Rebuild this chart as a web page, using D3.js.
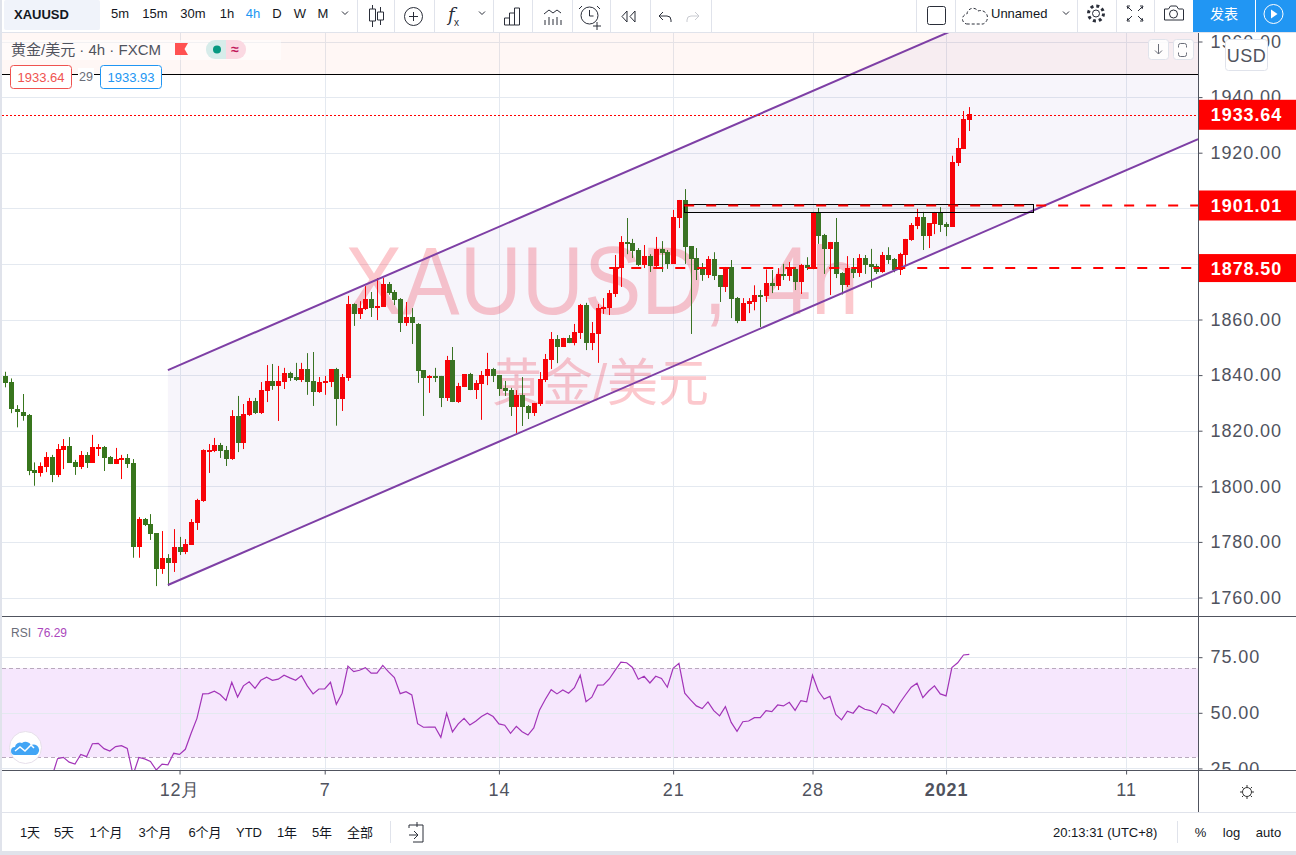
<!DOCTYPE html>
<html>
<head>
<meta charset="utf-8">
<script src="https://cdnjs.cloudflare.com/ajax/libs/d3/7.8.5/d3.min.js"></script>
<style>
	html, body { margin: 0; padding: 0; background: #e0e3eb; overflow: hidden; }
	svg { display: block; font-family: "Liberation Sans", "Noto Sans CJK SC", sans-serif; }
</style>
</head>
<body>
<div id="chart"></div>
<script>
const opens = [
	1839.7,1837.5,1827.7,1826.7,1825.6,1805.9,1804.8,1807,1810.5,1804.1,
	1813,1814.5,1808.7,1807,1811.3,1808.4,1813.7,1814.1,1810.5,1808,
	1809.5,1810.2,1808.4,1778.3,1788.2,1786.4,1783.2,1770.3,1774.2,1772.4,
	1778.2,1776.4,1778.9,1786.8,1794.7,1812.7,1812.7,1814.9,1813.1,1809.8,
	1825.3,1815.6,1825.7,1830.7,1826.4,1834.3,1837.9,1836.1,1837.5,1840.8,
	1839.3,1838.2,1842.2,1837.9,1833.9,1837.2,1837.5,1842.2,1831.4,1839,
	1865.6,1862,1863.7,1867.4,1864.1,1864.5,1872.8,1869.9,1867.4,1858.7,
	1860.9,1858.3,1841.8,1839,1839.7,1839.7,1831.8,1845.4,1830.3,1835.7,
	1840.4,1834.6,1836.8,1839.7,1842.2,1840,1835.4,1834.6,1828.5,1832.8,
	1828.9,1826.4,1829.6,1838.2,1845.4,1853,1850.1,1853.3,1851.5,1855.1,
	1865.2,1851.5,1854.8,1863.8,1864.1,1869.2,1878.5,1887.9,1887.5,1885,
	1879.6,1882.8,1879.2,1885.4,1884.3,1880,1896.5,1903,1886.4,1882.1,
	1878.5,1876,1881.7,1876,1871.7,1878.9,1867.7,1859.5,1865.5,1866.3,
	1868.8,1868.4,1873.1,1872,1876.4,1875.6,1878.2,1873.5,1879.6,1878.5,
	1898.7,1890.4,1885.4,1887.9,1876.7,1872.4,1878.1,1876.7,1882.1,1880,
	1879.2,1877,1883.2,1881.7,1877.8,1883.2,1888.6,1893.6,1896.9,1890,
	1894.4,1898.3,1894.3,1893.3,1916.3,1921.3,1931.8
];
const closes = [
	1837.3,1827.7,1826.5,1825.4,1805.5,1804.8,1807.3,1810.5,1804.1,1813.4,
	1814.5,1808.4,1807,1811.3,1808.4,1814.1,1814.1,1810.2,1808,1809.8,
	1810.2,1808,1778.3,1788.2,1786.1,1782.8,1770.3,1774.2,1772.4,1778.2,
	1776.4,1779.2,1787.2,1795.1,1813.1,1813.1,1814.9,1812.7,1809.8,1825.3,
	1815.6,1826,1830.7,1826.4,1834.6,1837.9,1836.1,1837.9,1840.8,1839,
	1838.2,1842.2,1837.5,1833.9,1837.5,1837.9,1842.2,1831.4,1839.3,1865.6,
	1862,1864.1,1867.4,1864.1,1864.9,1872.8,1869.5,1867,1858.7,1860.9,
	1858.7,1841.5,1839,1839.7,1839.3,1831.8,1845.4,1830.3,1836.1,1840.4,
	1834.6,1837.2,1840,1842.2,1839.7,1835,1834.3,1828.5,1832.8,1828.5,
	1826.4,1830,1838.6,1845.8,1853,1850.1,1853.3,1851.5,1855.5,1865.2,
	1851.5,1855.1,1864.1,1864.5,1869.5,1878.5,1887.9,1887.2,1884.6,1879.6,
	1882.8,1879.2,1885.4,1884,1880,1896.9,1903,1886,1881.7,1877.8,
	1876,1881.7,1875.6,1871.7,1878.5,1867.4,1859.5,1865.9,1866.6,1868.8,
	1868.4,1873.1,1872,1876.4,1875.6,1878.9,1873.5,1879.6,1878.5,1898.7,
	1890,1885.4,1887.9,1876.4,1872.4,1878.5,1876.7,1882.1,1879.6,1878.9,
	1877,1883.2,1881.4,1877.8,1883.6,1889,1894,1896.9,1890,1894.7,
	1898.3,1894,1893.3,1916.7,1921.7,1932.1,1933.9
];
const highs = [
	1841.2,1838.8,1829.2,1833.2,1826,1808.6,1808.6,1812.3,1811.3,1815.2,
	1817,1817.7,1809.5,1812.7,1812.3,1818.5,1815.2,1814.5,1810.9,1813.8,
	1811.3,1811.6,1809.8,1788.9,1788.6,1790,1783.2,1783.9,1775.6,1784.6,
	1781.8,1781,1788.2,1795.5,1813.3,1815.2,1817.4,1815.6,1814.5,1827.4,
	1832.5,1829.6,1831.8,1831.8,1837.5,1843.6,1844,1843.3,1842.6,1841.2,
	1844.4,1844.4,1847.9,1848.3,1839.3,1839.7,1842.2,1842.6,1840.4,1868.5,
	1865.8,1866.6,1872,1869.9,1874.9,1874.9,1873.5,1870.6,1867.7,1866.3,
	1864.1,1858.7,1841.8,1840,1842.6,1839.7,1846.9,1850.1,1837.2,1840.4,
	1840.8,1838.2,1841.5,1848,1842.6,1840,1837.9,1835.4,1834.6,1839.3,
	1829.2,1830,1841.1,1847.6,1855.5,1854.4,1853.4,1854.4,1858.4,1865.6,
	1866,1859.1,1865.6,1867.7,1870.6,1883.2,1890,1896.5,1889,1885.7,
	1886.8,1883.5,1889.7,1888.2,1885,1899.4,1903,1906.9,1886.4,1885.7,
	1880.3,1882.8,1884.2,1876,1878.9,1881.4,1868.1,1867.7,1867.7,1872.3,
	1870.6,1878,1877.8,1878.5,1880,1880.7,1878.9,1880,1882.4,1898.7,
	1900.1,1890.8,1887.9,1896.5,1877,1882.8,1882.1,1883.5,1883.2,1885.4,
	1880,1884.3,1886,1882.1,1884,1889,1894.7,1899.8,1898.7,1894.7,
	1898.7,1900.4,1895,1918.9,1925.3,1935,1936.4
];
const lows = [
	1835.6,1826.3,1821.2,1823.6,1804,1800.2,1803.5,1805.1,1801.5,1803.3,
	1806.2,1808.4,1804.1,1806.2,1806.6,1808.4,1810.9,1805.5,1808,1808,
	1802.6,1806.6,1774.3,1774.3,1785.7,1780.7,1764.1,1768.5,1764.1,1769.2,
	1775.3,1775.6,1778.9,1784.3,1794.4,1804.8,1812.3,1810.2,1807.3,1809.5,
	1812.3,1813.4,1825.3,1826,1826,1830.3,1834.7,1823.5,1835,1837.9,
	1837.9,1837.5,1832.9,1828.9,1833.6,1832.9,1835.7,1821.8,1827.1,1837.9,
	1857.7,1860.2,1863.4,1860.9,1859.8,1864.5,1868.9,1865.2,1855.5,1857.7,
	1851.2,1837.2,1825.3,1833.6,1837.5,1828.5,1830.7,1830.3,1830,1835.7,
	1834.6,1831.4,1823.9,1836.4,1837.5,1832.5,1832.5,1825.3,1819.2,1821.7,
	1824.2,1825.3,1828.9,1837.5,1842.2,1844.3,1850.1,1851.5,1850.7,1853,
	1849,1849,1844.4,1862,1861.6,1868.1,1871.7,1883.5,1882.1,1879.2,
	1878.5,1877.1,1878.5,1877.1,1878.2,1880,1892.9,1880,1854.8,1874.2,
	1873.9,1874.9,1874.2,1866.3,1869.9,1860.5,1858.7,1859.5,1862.3,1863.3,
	1857.3,1866.3,1869.5,1870.6,1874.2,1873.9,1870.6,1869.2,1877.8,1878.1,
	1887.2,1876.4,1868.8,1874.9,1869,1871.7,1874.9,1875.3,1876.4,1871.4,
	1876.4,1876.8,1880,1877,1876,1879.6,1888.3,1892.5,1885,1885.7,
	1890.7,1891.5,1890,1893.3,1915.2,1921.3,1927.8
];
const rsi = [
	21,20,19,19,16,15,16,17,21,29.4,
	30,27.8,27,31.3,30.3,36.1,36.3,33.9,32.8,34.8,
	35.2,34,22.1,29.9,29.3,28.1,24.3,26.9,26.6,31.8,
	31.3,33.6,40.8,47.5,58.5,58.6,59.7,58.2,55.6,63.7,
	57.1,62.1,63.9,61,64.6,66,64.6,65.1,66.9,65.7,
	64.6,66.7,62.1,58.5,60.7,60.7,63.7,53.8,58.8,71,
	68.5,69.1,70.3,67.8,67.8,71.3,68.4,65.8,58.6,59.5,
	58,45.1,43.5,43.6,43.6,39,49.8,41.4,45,47.5,
	44.5,46.2,48.3,49.8,48.3,45,44.4,40.8,43.9,41.5,
	40,43.2,51.3,56.1,60.4,58.5,60.3,58.8,61.3,66.9,
	55,57,62.4,62.5,65.2,69.1,72.8,72.5,70.4,65.1,
	66.4,63.4,66.4,65.4,61.5,70,72.2,58.8,55.8,53.1,
	51.9,54.9,51,48.6,52.8,45.7,41.7,46,46.3,47.8,
	47.8,51,50.5,53.5,53.1,54.7,51.1,55.5,54.9,66.9,
	59.8,56.2,57.4,49.3,46.8,50.7,49.8,53.1,51.6,51,
	49.6,54.1,52.8,49.9,54.3,58,61.5,63.3,56.8,59.8,
	62.1,58.5,57.6,70.3,72.5,76,76.29
];

const priceTicks = [1760, 1780, 1800, 1820, 1840, 1860, 1880, 1900, 1920, 1940, 1960];
const hiddenPriceLabels = [1880, 1900]; // covered by the red tags
const rsiTicks = [25, 50, 75];
const timeTickIndex = [30, 55, 85, 115, 139, 162, 193];
const timeTickLabels = ["12月", "7", "14", "21", "28", "2021", "11"];
const intervals = ["5m", "15m", "30m", "1h", "4h", "D", "W", "M"];
const ranges = ["1天", "5天", "1个月", "3个月", "6个月", "YTD", "1年", "5年", "全部"];

// drawings, bar index / price
const channelStart = 28, channelEnd = 205.4;
const channelLower = [1764.5, 1924.9];
const channelUpper = [1841.8, 2002.2];
const priceLines = [
	{ value: 1901.01, from: 116.9 },
	{ value: 1878.5, from: 104 }
];
const boxRange = { from: 116.9, to: 177, top: 1901.4, bottom: 1898.6 };
const zoneBottom = 1948.1;
const blackLevel = 1948.1;
const lastPrice = 1933.64;

const width = 1296, height = 855;
const paneLeft = 2, axisX = 1198, mainTop = 33, mainBottom = 616, rsiBottom = 770, timeBottom = 812, pageBottom = 851;
const textColor = "#50535e", gridColor = "#e4e9f0", red = "#ff0000", green = "#38761d";
const purple = "#7e3fa5";

const x = d3.scaleLinear().domain([0, 166]).range([5.3, 969.3]);
const y = d3.scaleLinear().domain([1760, 1960]).range([597.5, 41.5]);
const yRsi = d3.scaleLinear().domain([30, 70]).range([757.3, 668.3]);
const snap = (v) => Math.round(v) + 0.5;

const svg = d3.select("#chart").append("svg").attr("width", width).attr("height", height);
const defs = svg.append("defs");
defs.append("clipPath").attr("id", "clip-main").append("rect")
	.attr("x", paneLeft).attr("y", mainTop).attr("width", axisX - paneLeft).attr("height", mainBottom - mainTop);
defs.append("clipPath").attr("id", "clip-rsi").append("rect")
	.attr("x", paneLeft).attr("y", mainBottom).attr("width", axisX - paneLeft).attr("height", rsiBottom - mainBottom);
defs.append("clipPath").attr("id", "clip-rsi-axis").append("rect")
	.attr("x", axisX).attr("y", mainBottom).attr("width", width - axisX).attr("height", rsiBottom - mainBottom);
defs.append("clipPath").attr("id", "clip-price-axis").append("rect")
	.attr("x", axisX).attr("y", mainTop).attr("width", width - axisX).attr("height", mainBottom - mainTop);

svg.append("rect").attr("x", paneLeft).attr("y", 0).attr("width", width - paneLeft).attr("height", pageBottom).attr("fill", "#fff");

// main pane
const main = svg.append("g").attr("clip-path", "url(#clip-main)");
main.append("g").selectAll("line").data(priceTicks).join("line")
	.attr("x1", paneLeft).attr("x2", axisX)
	.attr("y1", (d) => snap(y(d))).attr("y2", (d) => snap(y(d)))
	.attr("stroke", gridColor);
main.append("g").selectAll("line").data(timeTickIndex).join("line")
	.attr("x1", (d) => snap(x(d))).attr("x2", (d) => snap(x(d)))
	.attr("y1", mainTop).attr("y2", mainBottom)
	.attr("stroke", gridColor);

// watermark
main.append("text").attr("transform", "translate(345,314) scale(1,1.13)")
	.attr("font-size", 86).attr("word-spacing", 12).attr("fill", "#f44a58").attr("fill-opacity", 0.3).text("XAUUSD, 4h");
main.append("text").attr("x", 600).attr("y", 401).attr("text-anchor", "middle")
	.attr("font-size", 51).attr("fill", "#f44a58").attr("fill-opacity", 0.3).text("黄金/美元");

// candles
const candles = main.append("g").selectAll("g").data(d3.range(opens.length)).join("g");
candles.append("line")
	.attr("x1", (i) => snap(x(i))).attr("x2", (i) => snap(x(i)))
	.attr("y1", (i) => y(highs[i])).attr("y2", (i) => y(lows[i]))
	.attr("stroke", (i) => (closes[i] >= opens[i] ? red : green));
candles.append("rect")
	.attr("x", (i) => Math.round(x(i)) - 2)
	.attr("width", 5)
	.attr("y", (i) => Math.round(y(Math.max(opens[i], closes[i]))))
	.attr("height", (i) => Math.max(2, Math.round(Math.abs(y(opens[i]) - y(closes[i])))))
	.attr("fill", (i) => (closes[i] >= opens[i] ? red : green));

// rectangle zone on top, channel, lines
main.append("rect").attr("x", paneLeft).attr("width", axisX - paneLeft)
	.attr("y", mainTop).attr("height", y(zoneBottom) - mainTop)
	.attr("fill", "#ff6a3c").attr("fill-opacity", 0.05);
const channel = [
	[channelStart, channelLower[0]], [channelEnd, channelLower[1]],
	[channelEnd, channelUpper[1]], [channelStart, channelUpper[0]]
];
main.append("path")
	.attr("d", d3.line().x((d) => x(d[0])).y((d) => y(d[1]))(channel) + "Z")
	.attr("fill", "#673ab7").attr("fill-opacity", 0.05);
[channelLower, channelUpper].forEach((c) => {
	main.append("line")
		.attr("x1", x(channelStart)).attr("y1", y(c[0]))
		.attr("x2", x(channelEnd)).attr("y2", y(c[1]))
		.attr("stroke", purple).attr("stroke-width", 2);
});
main.append("line").attr("x1", paneLeft).attr("x2", axisX)
	.attr("y1", snap(y(blackLevel)) - 1).attr("y2", snap(y(blackLevel)) - 1).attr("stroke", "#000");
main.append("line").attr("x1", paneLeft).attr("x2", axisX)
	.attr("y1", snap(y(lastPrice))).attr("y2", snap(y(lastPrice)))
	.attr("stroke", red).attr("stroke-dasharray", "2 2");
main.append("rect")
	.attr("x", snap(x(boxRange.from))).attr("width", Math.round(x(boxRange.to) - x(boxRange.from)))
	.attr("y", snap(y(boxRange.top))).attr("height", Math.round(y(boxRange.bottom) - y(boxRange.top)))
	.attr("fill", "#000").attr("fill-opacity", 0.03).attr("stroke", "#000");
main.append("g").selectAll("line").data(priceLines).join("line")
	.attr("x1", (d) => x(d.from)).attr("x2", axisX)
	.attr("y1", (d) => y(d.value)).attr("y2", (d) => y(d.value))
	.attr("stroke", red).attr("stroke-width", 2).attr("stroke-dasharray", "10 12");

// price axis
const axisFont = (g) => g.call((s) => s.selectAll("text").attr("font-size", 18).attr("fill", textColor).attr("letter-spacing", 0.9));
svg.append("g").attr("clip-path", "url(#clip-price-axis)").append("g")
	.attr("transform", `translate(${axisX + 0.5},0)`)
	.call(d3.axisRight(y).tickValues(priceTicks.filter((t) => !hiddenPriceLabels.includes(t))).tickSize(4).tickPadding(8).tickFormat(d3.format(".2f")))
	.call((g) => g.select(".domain").remove())
	.call((g) => g.selectAll("line").attr("stroke", textColor))
	.call(axisFont);

// price labels
const priceTags = [
	{ value: lastPrice, h: 30 },
	{ value: priceLines[0].value, h: 30 },
	{ value: priceLines[1].value, h: 28 }
];
const tags = svg.append("g").selectAll("g").data(priceTags).join("g");
tags.append("rect").attr("x", axisX + 1).attr("width", width - axisX - 1)
	.attr("y", (d) => y(d.value) - d.h / 2).attr("height", (d) => d.h).attr("fill", red);
tags.append("text").attr("x", 1246.5).attr("y", (d) => y(d.value) + 6.5).attr("text-anchor", "middle")
	.attr("font-size", 18).attr("font-weight", "bold").attr("fill", "#fff").attr("letter-spacing", 0.9)
	.text((d) => d.value.toFixed(2));

// rsi pane
const pane = svg.append("g").attr("clip-path", "url(#clip-rsi)");
pane.append("rect").attr("x", paneLeft).attr("width", axisX - paneLeft)
	.attr("y", yRsi(70)).attr("height", yRsi(30) - yRsi(70)).attr("fill", "#b030f0").attr("fill-opacity", 0.115);
pane.append("g").selectAll("line").data(rsiTicks).join("line")
	.attr("x1", paneLeft).attr("x2", axisX)
	.attr("y1", (d) => snap(yRsi(d))).attr("y2", (d) => snap(yRsi(d)))
	.attr("stroke", gridColor);
pane.append("g").selectAll("line").data(timeTickIndex).join("line")
	.attr("x1", (d) => snap(x(d))).attr("x2", (d) => snap(x(d)))
	.attr("y1", mainBottom).attr("y2", rsiBottom)
	.attr("stroke", gridColor);
pane.append("g").selectAll("line").data([30, 70]).join("line")
	.attr("x1", paneLeft).attr("x2", axisX)
	.attr("y1", (d) => snap(yRsi(d))).attr("y2", (d) => snap(yRsi(d)))
	.attr("stroke", "#b8a9bd").attr("stroke-dasharray", "4 3");
pane.append("path").datum(rsi)
	.attr("d", d3.line().x((d, i) => x(i)).y((d) => yRsi(d)))
	.attr("fill", "none").attr("stroke", "#a234b8").attr("stroke-width", 1.2);

svg.append("g").attr("clip-path", "url(#clip-rsi-axis)").append("g")
	.attr("transform", `translate(${axisX + 0.5},0)`)
	.call(d3.axisRight(yRsi).tickValues(rsiTicks).tickSize(4).tickPadding(8).tickFormat(d3.format(".2f")))
	.call((g) => g.select(".domain").remove())
	.call((g) => g.selectAll("line").attr("stroke", textColor))
	.call(axisFont);

// separators
const hline = (yy, x1, x2, c) => svg.append("line").attr("x1", x1).attr("x2", x2).attr("y1", yy + 0.5).attr("y2", yy + 0.5).attr("stroke", c);
const vline = (xx, y1, y2, c) => svg.append("line").attr("x1", xx + 0.5).attr("x2", xx + 0.5).attr("y1", y1).attr("y2", y2).attr("stroke", c);
hline(mainBottom, paneLeft, width, "#50535e");
hline(rsiBottom, paneLeft, axisX + 98, "#50535e");
vline(axisX, mainTop, timeBottom, "#50535e");
hline(timeBottom, paneLeft, width, "#e0e3eb");
hline(32, 0, width, "#e0e3eb");

// time axis
svg.append("g").attr("transform", `translate(0,${rsiBottom + 0.5})`)
	.call(d3.axisBottom(x).tickValues(timeTickIndex).tickSize(4).tickPadding(9)
		.tickFormat((d, i) => timeTickLabels[i]))
	.call((g) => g.select(".domain").remove())
	.call((g) => g.selectAll("line").attr("stroke", textColor))
	.call(axisFont)
	.call((g) => g.selectAll("text").filter((d, i) => timeTickLabels[i] === "2021").attr("font-weight", "bold"));

// legend
const label = (parent, tx, ty, str, size, fill, anchor) => parent.append("text")
	.attr("x", tx).attr("y", ty).attr("font-size", size).attr("fill", fill || textColor)
	.attr("text-anchor", anchor || "start").text(str);

const legend = svg.append("g");
legend.append("rect").attr("x", paneLeft).attr("y", 40).attr("width", 279).attr("height", 20).attr("fill", "#fff").attr("fill-opacity", 0.5);
label(legend, 11, 55, "黄金/美元 · 4h · FXCM", 15);
legend.append("path").attr("d", "M175 43h13l-3.5 6 3.5 6h-13z").attr("fill", "#ff5252");
legend.append("rect").attr("x", 206).attr("y", 40).attr("width", 20).attr("height", 19).attr("rx", 9).attr("fill", "#d7ecea");
legend.append("rect").attr("x", 226).attr("y", 40).attr("width", 20).attr("height", 19).attr("rx", 9).attr("fill", "#fbd9e2");
legend.append("rect").attr("x", 216).attr("y", 40).attr("width", 10).attr("height", 19).attr("fill", "#d7ecea");
legend.append("rect").attr("x", 226).attr("y", 40).attr("width", 10).attr("height", 19).attr("fill", "#fbd9e2");
legend.append("circle").attr("cx", 217).attr("cy", 49.5).attr("r", 4).attr("fill", "#089981");
label(legend, 235, 54, "≈", 14, "#c2185b", "middle").attr("font-weight", "bold");
[
	{ x: 10, c: "#ef5350", t: "1933.64" },
	{ x: 100, c: "#2196f3", t: "1933.93" }
].forEach((b) => {
	legend.append("rect").attr("x", b.x + 0.5).attr("y", 65.5).attr("width", 61).attr("height", 23).attr("rx", 3).attr("fill", "#fff").attr("stroke", b.c);
	label(legend, b.x + 31, 82, b.t, 13, b.c, "middle");
});
legend.append("rect").attr("x", 78).attr("y", 68).attr("width", 16).attr("height", 14).attr("fill", "#fff");
label(legend, 86, 81, "29", 12.5, "#6a6d78", "middle");

// pane buttons
[1148, 1173].forEach((bx) => {
	svg.append("rect").attr("x", bx + 0.5).attr("y", 39.5).attr("width", 20).attr("height", 20).attr("rx", 3)
		.attr("fill", "#fff").attr("fill-opacity", 0.85).attr("stroke", "#e0e3eb");
});
svg.append("path").attr("d", "M1158.5 44v10m-3.5-3.5l3.5 3.5 3.5-3.5").attr("fill", "none").attr("stroke", "#6a6d78");
svg.append("path").attr("d", "M1179 47v-2a2 2 0 0 1 2-2h4a2 2 0 0 1 2 2v2m0 5v2a2 2 0 0 1-2 2h-4a2 2 0 0 1-2-2v-2").attr("fill", "none").attr("stroke", "#6a6d78").attr("transform", "translate(-0.5,0.5)");
svg.append("rect").attr("x", 1225.5).attr("y", 39.5).attr("width", 42).attr("height", 31).attr("rx", 3).attr("fill", "#fff").attr("stroke", "#e0e3eb");
label(svg, 1246.5, 62, "USD", 18, textColor, "middle").attr("letter-spacing", 0.5);

// rsi legend and badge
label(svg, 11, 637, "RSI", 12, "#6a6d78");
label(svg, 37, 637, "76.29", 12, "#ab47bc");
svg.append("circle").attr("cx", 25.5).attr("cy", 747.5).attr("r", 16).attr("fill", "#fff").attr("stroke", "#e6dfea");
svg.append("path").attr("d", "M15 755a4 4 0 0 1 0-8 5 5 0 0 1 7-4 6 6 0 0 1 9 2 5 5 0 0 1 5 10z").attr("fill", "#42a5f5");
svg.append("path").attr("d", "M15 751l5-4 5 4 6-6 3 3").attr("fill", "none").attr("stroke", "#fff").attr("stroke-width", 1.5);

// sun button on time axis
svg.append("circle").attr("cx", 1247).attr("cy", 792).attr("r", 4.5).attr("fill", "none").attr("stroke", "#333");
svg.append("path").attr("d", "M1247 785v2M1247 797v2M1240 792h2M1252 792h2M1242 787l1.5 1.5M1252 787l-1.5 1.5M1242 797l1.5-1.5M1252 797l-1.5-1.5").attr("stroke", "#333");

// top toolbar
const bar = svg.append("g");
const icon = "#2a2e39";
bar.append("rect").attr("x", 4).attr("y", 0).attr("width", 96).attr("height", 30).attr("rx", 2).attr("fill", "#f0f3fa");
label(bar, 14, 19, "XAUUSD", 13, "#131722").attr("font-weight", "bold");
const intervalX = [120, 155, 193, 227, 253, 277, 300, 323];
bar.append("g").selectAll("text").data(intervals).join("text")
	.attr("x", (d, i) => intervalX[i]).attr("y", 18).attr("text-anchor", "middle").attr("font-size", 13)
	.attr("fill", (d) => (d === "4h" ? "#2196f3" : "#131722")).text((d) => d);
[357, 394, 434, 493, 532, 572, 610, 650, 711, 916, 955, 1077, 1116, 1154].forEach((sx) => vline(sx, 0, 32, "#e0e3eb"));
const chevron = (cx) => bar.append("path").attr("d", `M${cx - 3} 11.5l3 3 3-3`).attr("fill", "none").attr("stroke", icon);
[345, 482, 1066].forEach(chevron);
const stroke = (d, c) => bar.append("path").attr("d", d).attr("fill", "none").attr("stroke", c || icon);
stroke("M372.5 5v4M372.5 21v6M369.5 9h6v12h-6zM380.5 7v5M380.5 20v5M377.5 12h6v8h-6z");
bar.append("circle").attr("cx", 413.5).attr("cy", 16.5).attr("r", 9).attr("fill", "none").attr("stroke", icon);
stroke("M413.5 12v9M409 16.5h9");
label(bar, 448, 21, "f", 18, icon).attr("font-style", "italic").attr("font-family", "DejaVu Serif");
label(bar, 454, 26, "x", 10, icon);
stroke("M504.5 25v-7h5v7zM509.5 25v-12h5v12zM514.5 25v-17h5v17z");
stroke("M544 14l5-4 4 3 4-3 4 3M545 25v-5M549 25v-8M553 25v-6M557 25v-8M561 25v-5");
bar.append("circle").attr("cx", 589.5).attr("cy", 15.5).attr("r", 8.5).attr("fill", "none").attr("stroke", icon);
stroke("M589.5 10v6h4M582 6l-3 3M597 6l3 3M597 22v8M593 26h8");
stroke("M627 11l-5 5.5 5 5.5zM635 11l-5 5.5 5 5.5z");
stroke("M659 16h8a4 4 0 0 1 4 4v2M659 16l4-4M659 16l4 4");
stroke("M699 16h-8a4 4 0 0 0-4 4v2M699 16l-4-4M699 16l-4 4", "#c9cbd1");
bar.append("rect").attr("x", 927.5).attr("y", 6.5).attr("width", 18).attr("height", 18).attr("rx", 2).attr("fill", "none").attr("stroke", icon);
stroke("M968 24a5 5 0 0 1-1-10 6 6 0 0 1 11-3 6 6 0 0 1 5 13z").attr("stroke-dasharray", "3 2");
label(bar, 991, 18, "Unnamed", 13, "#131722");
bar.append("circle").attr("cx", 1096).attr("cy", 13.5).attr("r", 3.5).attr("fill", "none").attr("stroke", icon);
bar.append("circle").attr("cx", 1096).attr("cy", 13.5).attr("r", 7.5).attr("fill", "none").attr("stroke", icon).attr("stroke-width", 3).attr("stroke-dasharray", "3 2.9");
stroke("M1128 9l-1-3h3M1128 7l4 4M1142 9l1-3h-3M1142 7l-4 4M1128 18l-1 3h3M1128 20l4-4M1142 18l1 3h-3M1142 20l-4-4");
stroke("M1164.5 9h4l2-3h6l2 3h4a1 1 0 0 1 1 1v10h-19z");
bar.append("circle").attr("cx", 1173.5).attr("cy", 14).attr("r", 4).attr("fill", "none").attr("stroke", icon);
bar.append("rect").attr("x", 1193).attr("y", 0).attr("width", 62).attr("height", 32).attr("fill", "#2196f3");
bar.append("rect").attr("x", 1256).attr("y", 0).attr("width", 40).attr("height", 32).attr("fill", "#2196f3");
label(bar, 1224, 19, "发表", 14, "#fff", "middle");
bar.append("circle").attr("cx", 1273.5).attr("cy", 14).attr("r", 9.5).attr("fill", "none").attr("stroke", "#fff");
bar.append("path").attr("d", "M1271 9.5l6.5 4.5-6.5 4.5z").attr("fill", "#fff");

// bottom toolbar
const rangeX = [30, 64, 106, 155, 205, 249, 287, 322, 360];
svg.append("g").selectAll("text").data(ranges).join("text")
	.attr("x", (d, i) => rangeX[i]).attr("y", 837).attr("text-anchor", "middle").attr("font-size", 13)
	.attr("fill", "#131722").text((d) => d);
vline(390, 821, 843, "#e0e3eb");
svg.append("path").attr("d", "M409 825h14v17h-10M409 825v3M417 822v5M409 835h9M414 831l4 4-4 4").attr("fill", "none").attr("stroke", icon);
label(svg, 1053, 837, "20:13:31 (UTC+8)", 13, "#131722");
vline(1177, 821, 843, "#e0e3eb");
label(svg, 1200.5, 837, "%", 13, "#131722", "middle");
label(svg, 1231.5, 837, "log", 13, "#131722", "middle");
label(svg, 1268.5, 837, "auto", 13, "#131722", "middle");
</script>
</body>
</html>
